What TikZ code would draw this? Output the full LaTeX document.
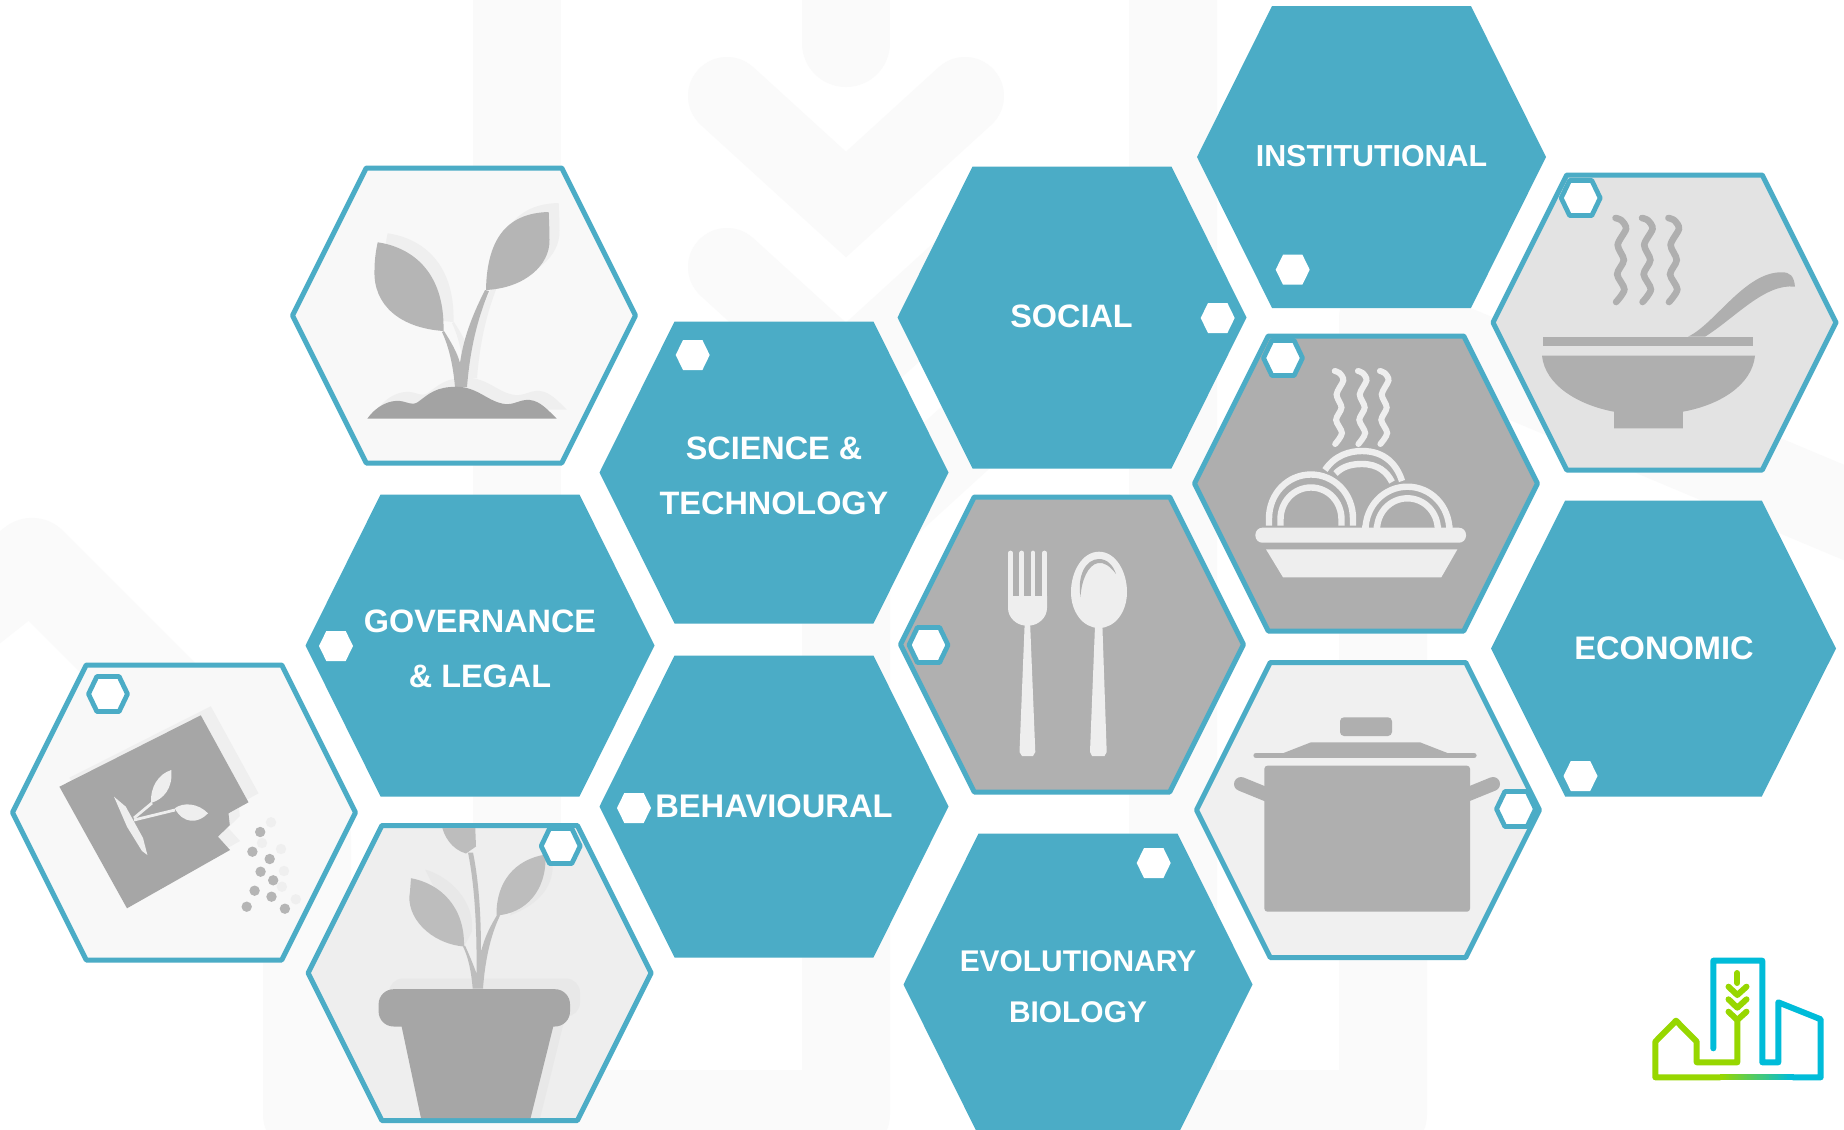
\documentclass[tikz,border=0pt]{standalone}
\usepackage{fontspec}
\setmainfont{Liberation Sans}
\definecolor{hexblue}{HTML}{4BACC6}
\definecolor{wmark}{HTML}{FAFAFA}
\definecolor{leafg}{HTML}{BDBDBD}
\definecolor{darkg}{HTML}{A6A6A6}
\definecolor{midg}{HTML}{AFAFAF}
\definecolor{lightg}{HTML}{EEEEEE}
\definecolor{gF7}{HTML}{F8F8F8}
\definecolor{gEF}{HTML}{EFEFEF}
\definecolor{gE8}{HTML}{E8E8E8}
\definecolor{gE3}{HTML}{E3E3E3}
\definecolor{gF0}{HTML}{F0F0F0}
\definecolor{gAE}{HTML}{AEAEAE}
\definecolor{gB0}{HTML}{B0B0B0}
\definecolor{gB5}{HTML}{B5B5B5}
\definecolor{gA3}{HTML}{A3A3A3}
\definecolor{logogreen}{HTML}{97D700}
\definecolor{logocyan}{HTML}{00BCD9}
\newcommand{\hexat}[4]{({#1-#3},#2) -- ({#1-0.57*#3},{#2-#4}) -- ({#1+0.57*#3},{#2-#4}) -- ({#1+#3},#2) -- ({#1+0.57*#3},{#2+#4}) -- ({#1-0.57*#3},{#2+#4}) -- cycle}
\newcommand{\archat}[4]{({#1-#2},#3) -- ({#1-#2},{#4+1.05*#2}) .. controls ({#1-#2},{#4+0.45*#2}) and ({#1-0.55*#2},#4) .. (#1,#4) .. controls ({#1+0.55*#2},#4) and ({#1+#2},{#4+0.45*#2}) .. ({#1+#2},{#4+1.05*#2}) -- ({#1+#2},#3)}
\newcommand{\steamat}[4]{plot[smooth] coordinates {({#1-0.9*#4},{#2}) ({#1+0.2*#4},{#2+0.03*(#3-#2)}) ({#1+#4},{#2+0.13*(#3-#2)}) ({#1-0.5*#4},{#2+0.32*(#3-#2)}) ({#1+0.6*#4},{#2+0.5*(#3-#2)}) ({#1-0.6*#4},{#2+0.67*(#3-#2)}) ({#1+0.7*#4},{#2+0.85*(#3-#2)}) ({#1-0.8*#4},{#3})}}
\tikzset{
  bluehex/.style={fill=hexblue,line join=round},
  outhex/.style={draw=hexblue,line width=2.5pt,line join=round},
  minihex/.style={fill=white},
  miniout/.style={fill=white,draw=hexblue,line width=2.4pt,line join=round},
  hexlabel/.style={text=white,inner sep=0pt,align=center},
  band/.style={draw=wmark,line width=44pt,line cap=round,line join=round},
  chevron/.style={draw=wmark,line width=39pt,line cap=round,line join=miter},
  steamline/.style={line width=3.3pt,line cap=round},
  archline/.style={line width=3.2pt},
  logoline/.style={line width=3pt,line cap=round,line join=round}
}
\newcommand{\sproutleaves}{(377.7,242.3) .. controls (410,247) and (445,270) .. (443.5,331) .. controls (400,328) and (373,305) .. (374.5,270) .. controls (374.5,260) and (376,250) .. (377.7,242.3) -- cycle
  (548.7,212) .. controls (510,213) and (487,235) .. (486,290) .. controls (525,288) and (550,265) .. (549.5,240) .. controls (549.5,230) and (549,220) .. (548.7,212) -- cycle}
\newcommand{\sproutstem}{(455,387) .. controls (453,365) and (449,347) .. (442,332) -- (444,331) .. controls (451,342) and (457,352) .. (460,363) .. controls (464,335) and (474,312) .. (485,290) -- (489,291) .. controls (477,320) and (470,350) .. (467,387) -- cycle}
\newcommand{\sproutsoil}{(367.3,418.7) .. controls (377,405) and (390,400) .. (400,401) .. controls (408,402) and (412,406) .. (418,402) .. controls (430,393) and (436,387) .. (456.7,386.7) .. controls (478,387) and (488,402) .. (505,404) .. controls (515,405) and (520,399) .. (530,400) .. controls (540,401) and (548,410) .. (556.7,418.7) -- cycle}
\newcommand{\packet}{(200.8,715.3) -- (248.5,802.3) -- (228.5,813.3) -- (229.8,825) -- (218,836.7) -- (230,850) -- (127,908.3) -- (59.4,786.7) -- cycle}
\begin{document}
\begin{tikzpicture}[x=0.5pt,y=-0.5pt]
\useasboundingbox (0,0) rectangle (1844,1130);
\fill[white] (0,0) rectangle (1844,1130);
% faint watermark
\begin{scope}
\clip (0,0) rectangle (1844,1130);
\draw[band] (-120,682) -- (32,562) -- (307,837) -- (307,1114) -- (846,1114) -- (846,548);
\draw[band] (846,-60) -- (846,43);
\draw[band] (517,-60) -- (517,916);
\draw[band] (1173,-60) -- (1173,1114) -- (1383,1114) -- (1383,319) -- (2000,578);
\draw[chevron] (727,96) -- (846,204.5) -- (965,96);
\draw[chevron] (727,267) -- (846,375.5) -- (965,267);
\draw[chevron] (727,438) -- (846,546.5) -- (965,438);
\end{scope}
% blue hexagons
\begin{scope}
\clip (0,0) rectangle (1844,1130);
\fill[bluehex] \hexat{1371.5}{157}{174.5}{151};
\fill[bluehex] \hexat{1072}{317.5}{174.5}{151};
\fill[bluehex] \hexat{774}{472.5}{174.5}{151};
\fill[bluehex] \hexat{480}{645.5}{174.5}{151};
\fill[bluehex] \hexat{774}{806.5}{174.5}{151};
\fill[bluehex] \hexat{1078}{984.5}{174.5}{151};
\fill[bluehex] \hexat{1663.5}{648.5}{172.5}{148};
\end{scope}
% outlined hexagons
\fill[gF7] \hexat{464}{315.5}{172}{147.5};
\draw[outhex] \hexat{464}{315.5}{171.5}{147.5};
\fill[gF7] \hexat{184}{812.5}{171.5}{147.5};
\draw[outhex] \hexat{184}{812.5}{171.5}{147.5};
\fill[lightg] \hexat{479.6}{973}{171.5}{147.5};
\draw[outhex] \hexat{479.6}{973}{171.5}{147.5};
\fill[gE3] \hexat{1664.5}{322.5}{171.5}{147.5};
\draw[outhex] \hexat{1664.5}{322.5}{171.5}{147.5};
\fill[gAE] \hexat{1366}{483.5}{171.5}{147.5};
\draw[outhex] \hexat{1366}{483.5}{171.5}{147.5};
\fill[gB0] \hexat{1072}{644.5}{171.5}{147.5};
\draw[outhex] \hexat{1072}{644.5}{171.5}{147.5};
\fill[gF0] \hexat{1368}{810}{171.5}{147.5};
\draw[outhex] \hexat{1368}{810}{171.5}{147.5};
% sprout
\begin{scope}[shift={(10,-9)}]
\fill[gEF] \sproutleaves; \fill[gEF] \sproutstem; \fill[gEF] \sproutsoil;
\end{scope}
\fill[gB5] \sproutleaves;
\fill[gB5] \sproutstem;
\fill[gA3] \sproutsoil;
% seed packet
\begin{scope}[shift={(10,-9)}]
\fill[gEF] \packet;
\end{scope}
\fill[darkg] \packet;
\fill[lightg] (114,796.7) -- (125.8,806.7) -- (143,838) -- (147.4,855) -- (142,851) -- (127,826.7) -- cycle;
\draw[lightg,line width=1.4pt] (134,818) -- (152,803);
\draw[lightg,line width=1.4pt] (134,820) -- (175,810);
\fill[lightg] (171.3,770) .. controls (158,774) and (150,788) .. (151,803) .. controls (164,799) and (173,788) .. (171.3,770) -- cycle;
\fill[lightg] (174.8,808.3) .. controls (183,802) and (198,803) .. (208,813.3) .. controls (198,824) and (183,824) .. (174.8,808.3) -- cycle;
\foreach \px/\py in {271/822.3,281/849,284/871,281.9/886.7,295.8/899.3,262/843} \fill[gEF] (\px,\py) circle (5.2);
\foreach \px/\py in {260.2/832,252.4/851.7,269.7/859,260.6/871.7,273.2/880.3,254.6/890.7,271.5/896.7,246.7/906.7,284.9/908.7} \fill[gB5] (\px,\py) circle (5.2);
% potted plant
\begin{scope}
\clip \hexat{479.6}{973}{169}{145};
\begin{scope}[shift={(0,1.5)}]
\fill[gE8,rounded corners=7pt] (389,977) rectangle (580,1015);
\fill[gE8] (540,1020) -- (564,1020) -- (540,1117) -- (530,1117) -- cycle;
\fill[gE8] (425,868) .. controls (450,875) and (475,900) .. (472,930) -- (464,945) -- cycle;
\fill[gE8] (552,853) .. controls (556,880) and (545,900) .. (510,914) -- (530,870) -- cycle;
\fill[leafg] (411,876.7) .. controls (440,882) and (465,905) .. (464,945) .. controls (430,942) and (405,915) .. (410,890) -- cycle;
\fill[leafg] (545.5,853) .. controls (515,858) and (496,880) .. (496.5,914) .. controls (525,912) and (547,890) .. (545.5,853) -- cycle;
\fill[leafg] (441,820) -- (475,820) -- (476,845) -- (466,852) .. controls (452,848) and (443,835) .. (441,820) -- cycle;
\fill[leafg] (472.7,987) .. controls (471,968) and (468,955) .. (463,945) -- (465,944) .. controls (470,955) and (474,965) .. (476.5,972) .. controls (477,930) and (475,885) .. (468,851) -- (473,851) .. controls (480,885) and (481,925) .. (481,950) .. controls (485,935) and (490,925) .. (498,912) -- (500,914) .. controls (490,935) and (485,960) .. (483,987) -- cycle;
\fill[darkg] (401,1022) -- (554,1022) -- (530,1119) -- (421.5,1119) -- cycle;
\fill[darkg,rounded corners=7.5pt] (378.6,987.7) rectangle (570,1025);
\end{scope}
\end{scope}
% soup
\begin{scope}[midg]
\draw[steamline] \steamat{1620.5}{218}{302}{5.5};
\draw[steamline] \steamat{1647}{218}{302}{5.5};
\draw[steamline] \steamat{1673.4}{218}{302}{5.5};
\fill (1543.4,336.7) rectangle (1753,346);
\fill (1688,336.7) .. controls (1715,324) and (1745,272) .. (1781.4,272.3) .. controls (1790,272) and (1794,276) .. (1795,286.7) .. controls (1765,283) and (1735,318) .. (1705,336.7) -- cycle;
\fill (1542,355.7) -- (1755,355.7) .. controls (1752,385) and (1720,405) .. (1682.8,411.7) -- (1682.8,428.3) -- (1614,428.3) -- (1614,411.7) .. controls (1578,405) and (1545,385) .. (1542,355.7) -- cycle;
\end{scope}
% pasta
\begin{scope}[lightg]
\draw[steamline,line width=3pt] \steamat{1338.8}{371}{444}{4.5};
\draw[steamline,line width=3pt] \steamat{1362}{371}{444}{4.5};
\draw[steamline,line width=3pt] \steamat{1384}{371}{444}{4.5};
\fill[rounded corners=3.5pt] (1255.4,527.7) rectangle (1466,542.7);
\fill (1266,549.3) -- (1457.4,549.3) -- (1441.3,577.3) -- (1283,577.3) -- cycle;
\draw[archline] \archat{1311}{42}{525.7}{474.5};
\draw[archline] \archat{1311}{30.5}{525.7}{487.5};
\draw[archline] \archat{1407.4}{42}{525.7}{486.7};
\draw[archline] \archat{1407.4}{30.5}{525.7}{498.3};
\draw[archline] (1325,470) .. controls (1335,455) and (1350,451) .. (1362,451) .. controls (1385,451) and (1397,465) .. (1402,481);
\draw[archline] (1335.5,473.5) .. controls (1343,466) and (1352,464) .. (1362,464) .. controls (1378,464) and (1387,472) .. (1392,482);
\end{scope}
% cutlery
\begin{scope}[lightg]
\foreach \tx in {1010.5,1021.8,1033,1044.5} \draw[line width=2.4pt,line cap=round] (\tx,553) -- (\tx,598);
\fill (1008,596) -- (1047,596) -- (1047,608) .. controls (1047,618) and (1038,625) .. (1030.2,625.5) -- (1035.3,752) -- (1033,756) -- (1022,756) -- (1019.5,752) -- (1024.6,625.5) .. controls (1017,625) and (1008,618) .. (1008,608) -- cycle;
\fill (1099,551.7) .. controls (1116,551.7) and (1127,572) .. (1127,592) .. controls (1127,612) and (1115,628) .. (1099,628) .. controls (1083,628) and (1071,612) .. (1071,592) .. controls (1071,572) and (1082,551.7) .. (1099,551.7) -- cycle;
\fill (1095,626) -- (1102.4,626) -- (1106.7,752) -- (1104.5,756) -- (1092,756) -- (1090,752) -- cycle;
\fill[gB0] (1080.5,597) .. controls (1077,575) and (1086,559) .. (1099,559) .. controls (1107,559) and (1113,565) .. (1116,574) .. controls (1110,566) and (1104,562) .. (1098,563) .. controls (1088,565) and (1081.5,580) .. (1080.5,597) -- cycle;
\end{scope}
% cooking pot
\begin{scope}[midg]
\fill[rounded corners=2pt] (1340,717.3) rectangle (1392,736);
\draw[line width=2.6pt,line cap=round] (1256,755.5) -- (1474,755.5);
\fill (1281,754) -- (1311,742.3) -- (1420,742.3) -- (1450,754) -- cycle;
\fill[rounded corners=1.5pt] (1264.4,765.7) rectangle (1470,911.7);
\draw[line width=7pt,line cap=round] (1268,795) -- (1241,784);
\draw[line width=7pt,line cap=round] (1466,795) -- (1493,784);
\end{scope}
% small hexagons
\fill[minihex] \hexat{1292.7}{269.7}{17}{15};
\fill[minihex] \hexat{1217.7}{318}{17}{15};
\fill[minihex] \hexat{692.7}{355}{17}{15};
\fill[minihex] \hexat{336}{646}{17}{15};
\fill[minihex] \hexat{634}{808}{17}{15};
\fill[minihex] \hexat{1153.7}{863}{17}{15};
\fill[minihex] \hexat{1580.5}{776}{17}{15};
\draw[miniout] \hexat{108}{694}{19.5}{17.5};
\draw[miniout] \hexat{560.7}{846}{19.5}{17.5};
\draw[miniout] \hexat{1580.7}{198}{19.5}{17.5};
\draw[miniout] \hexat{1283}{358}{19.5}{17.5};
\draw[miniout] \hexat{928.5}{645}{19.5}{17.5};
\draw[miniout] \hexat{1516}{809}{19.5}{17.5};
% labels
\node[hexlabel,font=\fontsize{15.2}{18}\selectfont\bfseries] (institutional) at (1371.5,156.5) {INSTITUTIONAL};
\node[hexlabel,font=\fontsize{16.2}{18}\selectfont\bfseries] (social) at (1071.5,316.5) {SOCIAL};
\node[hexlabel,font=\fontsize{16.2}{18}\selectfont\bfseries] (science) at (774,448.5) {SCIENCE \&};
\node[hexlabel,font=\fontsize{16.2}{18}\selectfont\bfseries] (technology) at (774,503.5) {TECHNOLOGY};
\node[hexlabel,font=\fontsize{16.2}{18}\selectfont\bfseries] (governance) at (480,621.5) {GOVERNANCE};
\node[hexlabel,font=\fontsize{16.2}{18}\selectfont\bfseries] (legal) at (480,676.5) {\& LEGAL};
\node[hexlabel,font=\fontsize{16.35}{18}\selectfont\bfseries] (behavioural) at (774,806) {BEHAVIOURAL};
\node[hexlabel,font=\fontsize{14.95}{18}\selectfont\bfseries] (evolutionary) at (1078,961) {EVOLUTIONARY};
\node[hexlabel,font=\fontsize{14.95}{18}\selectfont\bfseries] (biology) at (1078,1012) {BIOLOGY};
\node[hexlabel,font=\fontsize{16.3}{18}\selectfont\bfseries] (economic) at (1664,648) {ECONOMIC};
% logo
\draw[logoline,logogreen] (1737.3,1020) -- (1737.3,1062.3) -- (1696.7,1062.3) -- (1696.7,1041.7) -- (1676,1020.7) -- (1655.3,1041.7) -- (1655.3,1077.3) -- (1720,1077.3);
\draw[logoline,logocyan] (1793,1077.3) -- (1820.7,1077.3) -- (1820.7,1019.3) -- (1778.3,1002.3) -- (1778.3,1062.3) -- (1762.3,1062.3) -- (1762.3,960.7) -- (1713.3,960.7) -- (1713.3,1048.3);
\foreach \st in {0,1,...,23} \draw[line width=3pt,color=logocyan!\fpeval{round(\st*100/23)}!logogreen] ({1720+\st*3.05},1077.3) -- ({1720+(\st+1)*3.05+0.5},1077.3);
\draw[logoline,logogreen] (1737.3,973) -- (1737.3,983);
\draw[logoline,logogreen] (1728.5,986.7) -- (1737.3,995) -- (1746.5,986.7);
\draw[logoline,logogreen] (1728.5,999.3) -- (1737.3,1007.7) -- (1746.5,999.3);
\draw[logoline,logogreen] (1728.5,1011.7) -- (1737.3,1020) -- (1746.5,1011.7);
\end{tikzpicture}
\end{document}
